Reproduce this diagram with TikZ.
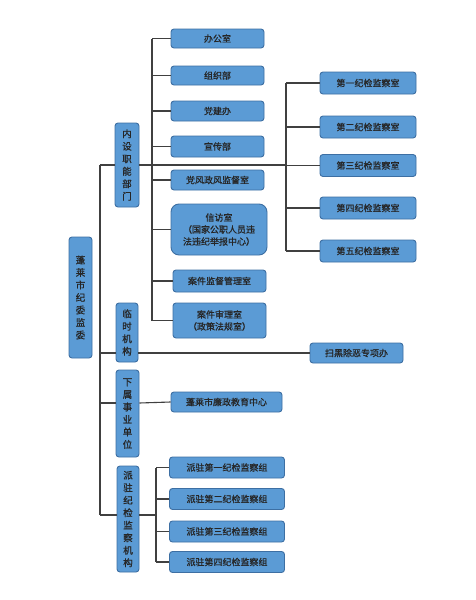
\documentclass[tikz,border=0pt]{standalone}
\usepackage{fontspec}
\setmainfont{Noto Sans CJK SC}[FakeBold=0.9]
\usetikzlibrary{calc}
\definecolor{boxfill}{HTML}{5B9BD5}
\definecolor{boxline}{HTML}{3D6FA3}
\definecolor{conn}{HTML}{404040}
\begin{document}
\begin{tikzpicture}[x=1pt,y=-1pt,
  box/.style={draw=boxline,fill=boxfill,line width=0.9pt,rounded corners=3pt,inner sep=0pt,align=center,text=black!85,font={\fontsize{9}{12}\selectfont}},
  vbox/.style={box,font={\fontsize{9.5}{12.5}\selectfont}},
  wire/.style={draw=conn,line width=1.1pt}]
\useasboundingbox[fill=white] (0,0) rectangle (476,600);
% level 1
\node[vbox,minimum width=23pt,minimum height=121pt] (main) at (80.5,297.5) {蓬\\莱\\市\\纪\\委\\监\\委};
% level 2
\node[vbox,minimum width=24pt,minimum height=84pt] (n1) at (127,165) {内\\设\\职\\能\\部\\门};
\node[vbox,minimum width=22pt,minimum height=59pt] (n2) at (127,332.5) {临\\时\\机\\构};
\node[vbox,minimum width=23pt,minimum height=87pt] (n3) at (127.5,413.5) {下\\属\\事\\业\\单\\位};
\node[vbox,minimum width=22pt,minimum height=106pt] (n4) at (128,519) {派\\驻\\纪\\检\\监\\察\\机\\构};
% internal departments
\node[box,minimum width=93pt,minimum height=19pt] (a1) at (217.5,38.5) {办公室};
\node[box,minimum width=93pt,minimum height=19pt] (a2) at (217.5,75.5) {组织部};
\node[box,minimum width=93pt,minimum height=20pt] (a3) at (217.5,111) {党建办};
\node[box,minimum width=93pt,minimum height=21pt] (a4) at (217.5,146.5) {宣传部};
\node[box,minimum width=93pt,minimum height=20pt] (a5) at (217.5,180) {党风政风监督室};
\node[box,rounded corners=8pt,minimum width=96pt,minimum height=51pt] (a6) at (219,229.5) {信访室\\（国家公职人员违\\法违纪举报中心）};
\node[box,minimum width=93pt,minimum height=22pt] (a7) at (219.5,281) {案件监督管理室};
\node[box,minimum width=93pt,minimum height=35pt] (a8) at (219.5,320.5) {案件审理室\\（政策法规室）};
% supervision offices
\node[box,minimum width=96pt,minimum height=22pt] (b1) at (368,83) {第一纪检监察室};
\node[box,minimum width=96pt,minimum height=22pt] (b2) at (368,127) {第二纪检监察室};
\node[box,minimum width=96pt,minimum height=22pt] (b3) at (368,165.5) {第三纪检监察室};
\node[box,minimum width=96pt,minimum height=22pt] (b4) at (368,208) {第四纪检监察室};
\node[box,minimum width=96pt,minimum height=22pt] (b5) at (368,251) {第五纪检监察室};
% others
\node[box,minimum width=93pt,minimum height=20pt] (c1) at (356.5,353) {扫黑除恶专项办};
\node[box,minimum width=111pt,minimum height=20pt] (d1) at (226.5,402) {蓬莱市廉政教育中心};
\node[box,minimum width=115pt,minimum height=21pt] (e1) at (227,467.5) {派驻第一纪检监察组};
\node[box,minimum width=115pt,minimum height=21pt] (e2) at (227,499) {派驻第二纪检监察组};
\node[box,minimum width=115pt,minimum height=21pt] (e3) at (227,531.5) {派驻第三纪检监察组};
\node[box,minimum width=115pt,minimum height=21pt] (e4) at (227,562) {派驻第四纪检监察组};
% junction coordinates
\coordinate (t1) at (100,165);
\coordinate (t2) at (100,353);
\coordinate (t3) at (100,403);
\coordinate (t4) at (100,515);
\coordinate (ax) at (152,0);
\coordinate (bx) at (286,0);
\coordinate (ex) at (156,0);
% trunk
\draw[wire] (t1) -- (t4);
\draw[wire] (t1) -- (n1.west);
\draw[wire] (t2) -- (t2 -| n2.west);
\draw[wire] (t3) -- (t3 -| n3.west);
\draw[wire] (t4) -- (t4 -| n4.west);
% internal departments
\draw[wire] (ax |- a1.west) -- (ax |- a8.west);
\foreach \n in {a1,a2,a3,a4,a5,a6,a7,a8} \draw[wire] (ax |- \n.west) -- (\n.west);
% supervision offices
\draw[wire] (n1.east) -- (bx |- n1.east);
\draw[wire] (bx |- b1.west) -- (bx |- b5.west);
\foreach \n in {b1,b2,b3,b4,b5} \draw[wire] (bx |- \n.west) -- (\n.west);
% others
\draw[wire] (n2.east |- t2) -- (c1.west);
\draw[wire] (n3.east |- t3) -- (d1.west);
\draw[wire] (n4.east |- t4) -- (ex |- t4);
\draw[wire] (ex |- e1.west) -- (ex |- e4.west);
\foreach \n in {e1,e2,e3,e4} \draw[wire] (ex |- \n.west) -- (\n.west);
\end{tikzpicture}
\end{document}
